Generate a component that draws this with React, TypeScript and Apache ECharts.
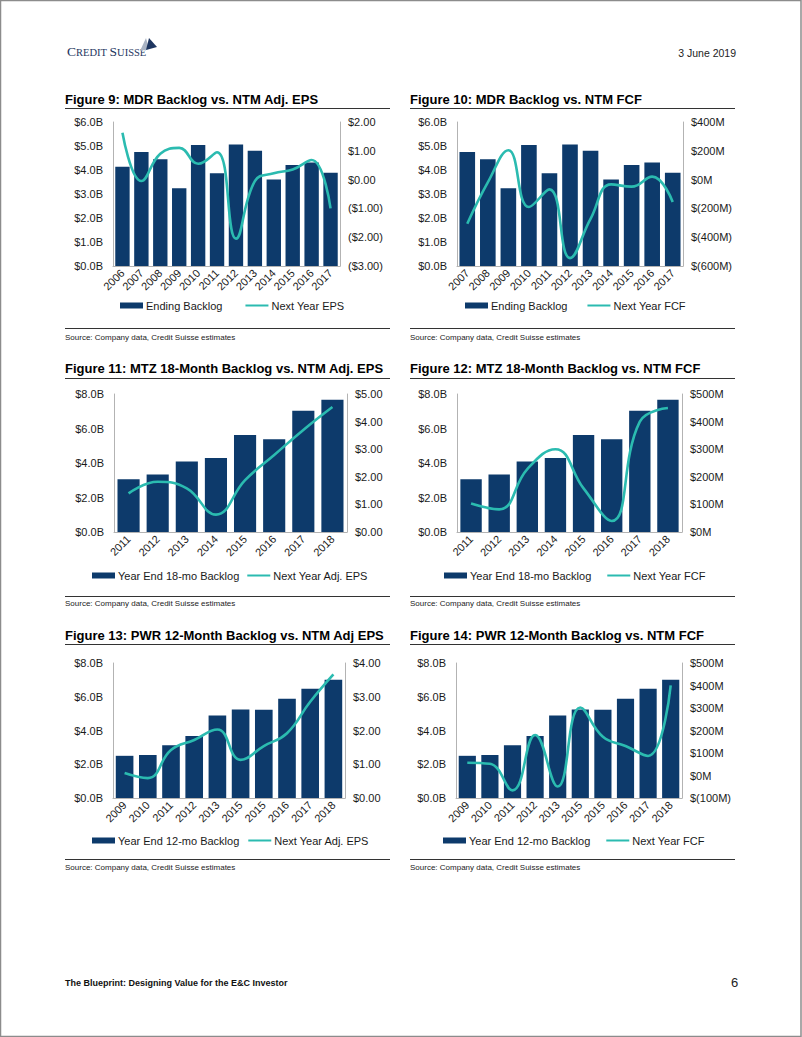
import React, { useEffect, useRef } from "react";
import * as echarts from "echarts";

// ---------- DATA ----------
const mdrYears9 = ["2006", "2007", "2008", "2009", "2010", "2011", "2012", "2013", "2014", "2015", "2016", "2017"];
const mdrBacklog9 = [4.14, 4.75, 4.45, 3.24, 5.04, 3.86, 5.06, 4.8, 3.6, 4.21, 4.31, 3.89];
const mdrEps9 = [1.63, -0.05, 0.9, 1.1, 0.55, 0.95, -2.05, -0.05, 0.22, 0.35, 0.68, -1.0];

const mdrYears10 = ["2007", "2008", "2009", "2010", "2011", "2012", "2013", "2014", "2015", "2016", "2017"];
const mdrBacklog10 = [4.75, 4.45, 3.24, 5.04, 3.86, 5.06, 4.8, 3.6, 4.21, 4.31, 3.89];
const mdrFcf10 = [-307, -20, 204, -190, -68, -545, -272, -33, -49, 21, -155];

const mtzYears = ["2011", "2012", "2013", "2014", "2015", "2016", "2017", "2018"];
const mtzBacklog = [3.06, 3.34, 4.08, 4.29, 5.63, 5.38, 7.03, 7.67];
const mtzEps = [1.4, 1.82, 1.58, 0.63, 1.88, 2.79, 3.7, 4.53];
const mtzFcf = [103, 82, 228, 300, 158, 40, 400, 449];

const pwrYears = ["2009", "2010", "2011", "2012", "2013", "2015", "2015", "2016", "2017", "2018"];
const pwrBacklog = [2.5, 2.55, 3.12, 3.67, 4.89, 5.25, 5.23, 5.88, 6.47, 7.01];
const pwrEps = [0.74, 0.59, 1.42, 1.72, 2.03, 1.13, 1.54, 1.92, 2.85, 3.66];
const pwrFcf = [57, 52, -66, 180, -49, 302, 172, 131, 87, 401];

// tick labels
const backlogTicks6 = ["$0.0B", "$1.0B", "$2.0B", "$3.0B", "$4.0B", "$5.0B", "$6.0B"];
const backlogTicks8 = ["$0.0B", "$2.0B", "$4.0B", "$6.0B", "$8.0B"];
const epsTicks9 = ["($3.00)", "($2.00)", "($1.00)", "$0.00", "$1.00", "$2.00"];
const fcfTicks10 = ["$(600M)", "$(400M)", "$(200M)", "$0M", "$200M", "$400M"];
const epsTicks11 = ["$0.00", "$1.00", "$2.00", "$3.00", "$4.00", "$5.00"];
const fcfTicks12 = ["$0M", "$100M", "$200M", "$300M", "$400M", "$500M"];
const epsTicks13 = ["$0.00", "$1.00", "$2.00", "$3.00", "$4.00"];
const fcfTicks14 = ["$(100M)", "$0M", "$100M", "$200M", "$300M", "$400M", "$500M"];

const titles = [
  "Figure 9: MDR Backlog vs. NTM Adj. EPS",
  "Figure 10: MDR Backlog vs. NTM FCF",
  "Figure 11: MTZ 18-Month Backlog vs. NTM Adj. EPS",
  "Figure 12: MTZ 18-Month Backlog vs. NTM FCF",
  "Figure 13: PWR 12-Month Backlog vs. NTM Adj EPS",
  "Figure 14: PWR 12-Month Backlog vs. NTM FCF",
];
const barNames = [
  "Ending Backlog",
  "Ending Backlog",
  "Year End 18-mo Backlog",
  "Year End 18-mo Backlog",
  "Year End 12-mo Backlog",
  "Year End 12-mo Backlog",
];
const lineNames = [
  "Next Year EPS",
  "Next Year FCF",
  "Next Year Adj. EPS",
  "Next Year FCF",
  "Next Year Adj. EPS",
  "Next Year FCF",
];
const sourceText = "Source: Company data, Credit Suisse estimates";

// ---------- STYLE / LAYOUT ----------
const FONT = "'Liberation Sans', Arial, Helvetica, sans-serif";
const NAVY = "#0d3a6b";
const TEAL = "#2bbbb0";
const AXIS_GRAY = "#b3b3b3";

type Spec = {
  cats: string[];
  bars: number[];
  line: number[];
  lMin: number; lMax: number; lInt: number; lLabels: string[];
  rMin: number; rMax: number; rInt: number; rLabels: string[];
};

const specs: Spec[] = [
  { cats: mdrYears9, bars: mdrBacklog9, line: mdrEps9, lMin: 0, lMax: 6, lInt: 1, lLabels: backlogTicks6, rMin: -3, rMax: 2, rInt: 1, rLabels: epsTicks9 },
  { cats: mdrYears10, bars: mdrBacklog10, line: mdrFcf10, lMin: 0, lMax: 6, lInt: 1, lLabels: backlogTicks6, rMin: -600, rMax: 400, rInt: 200, rLabels: fcfTicks10 },
  { cats: mtzYears, bars: mtzBacklog, line: mtzEps, lMin: 0, lMax: 8, lInt: 2, lLabels: backlogTicks8, rMin: 0, rMax: 5, rInt: 1, rLabels: epsTicks11 },
  { cats: mtzYears, bars: mtzBacklog, line: mtzFcf, lMin: 0, lMax: 8, lInt: 2, lLabels: backlogTicks8, rMin: 0, rMax: 500, rInt: 100, rLabels: fcfTicks12 },
  { cats: pwrYears, bars: pwrBacklog, line: pwrEps, lMin: 0, lMax: 8, lInt: 2, lLabels: backlogTicks8, rMin: 0, rMax: 4, rInt: 1, rLabels: epsTicks13 },
  { cats: pwrYears, bars: pwrBacklog, line: pwrFcf, lMin: 0, lMax: 8, lInt: 2, lLabels: backlogTicks8, rMin: -100, rMax: 500, rInt: 100, rLabels: fcfTicks14 },
];

const layout = [
  { grid: { left: 113, top: 122, width: 227, height: 144 }, legend: { left: 120, top: 300, gap: 22 }, x0: 65, x1: 390, titleY: 101, ruleY: 108.5, sepY: 328.5, srcY: 338 },
  { grid: { left: 457, top: 122, width: 226, height: 144 }, legend: { left: 465, top: 300, gap: 19 }, x0: 410, x1: 735, titleY: 101, ruleY: 108.5, sepY: 328.5, srcY: 338 },
  { grid: { left: 114, top: 394, width: 233, height: 138 }, legend: { left: 92, top: 570, gap: 7 }, x0: 65, x1: 390, titleY: 370, ruleY: 378.5, sepY: 596.5, srcY: 604 },
  { grid: { left: 457, top: 394, width: 225, height: 138 }, legend: { left: 444, top: 570, gap: 15 }, x0: 410, x1: 735, titleY: 370, ruleY: 378.5, sepY: 596.5, srcY: 604 },
  { grid: { left: 113, top: 663, width: 232, height: 135 }, legend: { left: 92, top: 835, gap: 8 }, x0: 65, x1: 390, titleY: 637, ruleY: 644.5, sepY: 859.5, srcY: 868 },
  { grid: { left: 456, top: 663, width: 226, height: 135 }, legend: { left: 443, top: 835, gap: 15 }, x0: 410, x1: 735, titleY: 637, ruleY: 644.5, sepY: 859.5, srcY: 868 },
];

function tickFormatter(min: number, int: number, labels: string[]) {
  return (v: number) => {
    const i = Math.round((v - min) / int);
    return labels[i] ?? "";
  };
}

function buildOption() {
  const grid: any[] = [];
  const xAxis: any[] = [];
  const yAxis: any[] = [];
  const series: any[] = [];
  const legend: any[] = [];
  const graphic: any[] = [];

  specs.forEach((s, i) => {
    const L = layout[i];
    grid.push({ ...L.grid, containLabel: false });
    xAxis.push({
      type: "category",
      gridIndex: i,
      data: s.cats,
      axisTick: { show: false },
      axisLine: { show: true, lineStyle: { color: AXIS_GRAY, width: 1 } },
      axisLabel: { rotate: 45, interval: 0, fontSize: 11, color: "#1a1a1a", fontFamily: FONT, margin: 5 },
    });
    yAxis.push({
      type: "value",
      gridIndex: i,
      position: "left",
      min: s.lMin,
      max: s.lMax,
      interval: s.lInt,
      splitLine: { show: false },
      axisTick: { show: false },
      axisLine: { show: true, lineStyle: { color: AXIS_GRAY, width: 1 } },
      axisLabel: { fontSize: 11, color: "#1a1a1a", fontFamily: FONT, margin: 10, formatter: tickFormatter(s.lMin, s.lInt, s.lLabels) },
    });
    yAxis.push({
      type: "value",
      gridIndex: i,
      position: "right",
      min: s.rMin,
      max: s.rMax,
      interval: s.rInt,
      splitLine: { show: false },
      axisTick: { show: false },
      axisLine: { show: true, lineStyle: { color: AXIS_GRAY, width: 1 } },
      axisLabel: { fontSize: 11, color: "#1a1a1a", fontFamily: FONT, margin: 8, formatter: tickFormatter(s.rMin, s.rInt, s.rLabels) },
    });
    series.push({
      type: "bar",
      name: barNames[i],
      xAxisIndex: i,
      yAxisIndex: 2 * i,
      data: s.bars,
      barCategoryGap: "24%",
      itemStyle: { color: NAVY },
    });
    series.push({
      type: "line",
      name: lineNames[i],
      xAxisIndex: i,
      yAxisIndex: 2 * i + 1,
      data: s.line,
      smooth: 0.45,
      symbol: "none",
      showSymbol: false,
      lineStyle: { color: TEAL, width: 2.6 },
      itemStyle: { color: TEAL },
      z: 5,
    });
    legend.push({
      left: L.legend.left,
      top: L.legend.top,
      orient: "horizontal",
      itemGap: L.legend.gap,
      itemWidth: 23,
      itemHeight: 6,
      selectedMode: false,
      padding: 0,
      textStyle: { fontSize: 11, color: "#1a1a1a", fontFamily: FONT, padding: [0, 0, 0, -2] },
      data: [
        { name: barNames[i], icon: "rect" },
        { name: lineNames[i], itemStyle: { opacity: 0, color: "rgba(0,0,0,0)", borderWidth: 0 } },
      ],
    });
    graphic.push({
      type: "text",
      left: L.x0,
      top: L.titleY - 8,
      style: { text: titles[i], font: `bold 13px ${FONT}`, fill: "#000" },
    });
    graphic.push({
      type: "line",
      shape: { x1: L.x0, y1: L.ruleY, x2: L.x1, y2: L.ruleY },
      style: { stroke: "#333", lineWidth: 1 },
    });
    graphic.push({
      type: "line",
      shape: { x1: L.x0, y1: L.sepY, x2: L.x1, y2: L.sepY },
      style: { stroke: "#333", lineWidth: 1 },
    });
    graphic.push({
      type: "text",
      left: L.x0,
      top: L.srcY - 5,
      style: { text: sourceText, font: `8px ${FONT}`, fill: "#222" },
    });
  });

  // page frame
  graphic.push({
    type: "rect",
    shape: { x: 0.5, y: 0.5, width: 800.5, height: 1036 },
    style: { fill: "none", stroke: "#8c8c8c", lineWidth: 1.5 },
  });
  // logo
  graphic.push({
    type: "text",
    x: 67,
    y: 58,
    style: {
      text: "{b|C}{s|REDIT }{b|S}{s|UISSE}",
      fill: "#1e3660",
      verticalAlign: "bottom",
      rich: {
        b: { fontSize: 13.5, fontFamily: "'Liberation Serif', 'DejaVu Serif', serif", fill: "#1e3660", verticalAlign: "bottom" },
        s: { fontSize: 10.5, fontFamily: "'Liberation Serif', 'DejaVu Serif', serif", fill: "#1e3660", verticalAlign: "bottom" },
      },
    },
  });
  graphic.push({
    type: "polygon",
    shape: { points: [[140, 51], [146, 38], [149, 49]] },
    style: { fill: "#a9b3c3" },
  });
  graphic.push({
    type: "polygon",
    shape: { points: [[146, 50], [149, 38], [157, 47]] },
    style: { fill: "#1e3660" },
  });
  // date
  graphic.push({
    type: "text",
    right: 66,
    top: 47,
    style: { text: "3 June 2019", font: `10.5px ${FONT}`, fill: "#222" },
  });
  // footer
  graphic.push({
    type: "text",
    left: 65,
    top: 978,
    style: { text: "The Blueprint: Designing Value for the E&C Investor", font: `bold 9px ${FONT}`, fill: "#111" },
  });
  graphic.push({
    type: "text",
    left: 731,
    top: 976,
    style: { text: "6", font: `13px ${FONT}`, fill: "#222" },
  });

  return {
    animation: false,
    backgroundColor: "#ffffff",
    textStyle: { fontFamily: FONT },
    grid,
    xAxis,
    yAxis,
    series,
    legend,
    graphic,
  };
}

export default function App() {
  const ref = useRef<HTMLDivElement>(null);
  useEffect(() => {
    if (!ref.current) return;
    const chart = echarts.init(ref.current, undefined, { renderer: "svg" });
    chart.setOption(buildOption() as any);
    return () => chart.dispose();
  }, []);
  return (
    <div
      ref={ref}
      style={{ position: "absolute", left: 0, top: 0, width: 802, height: 1037, background: "#fff" }}
    />
  );
}
